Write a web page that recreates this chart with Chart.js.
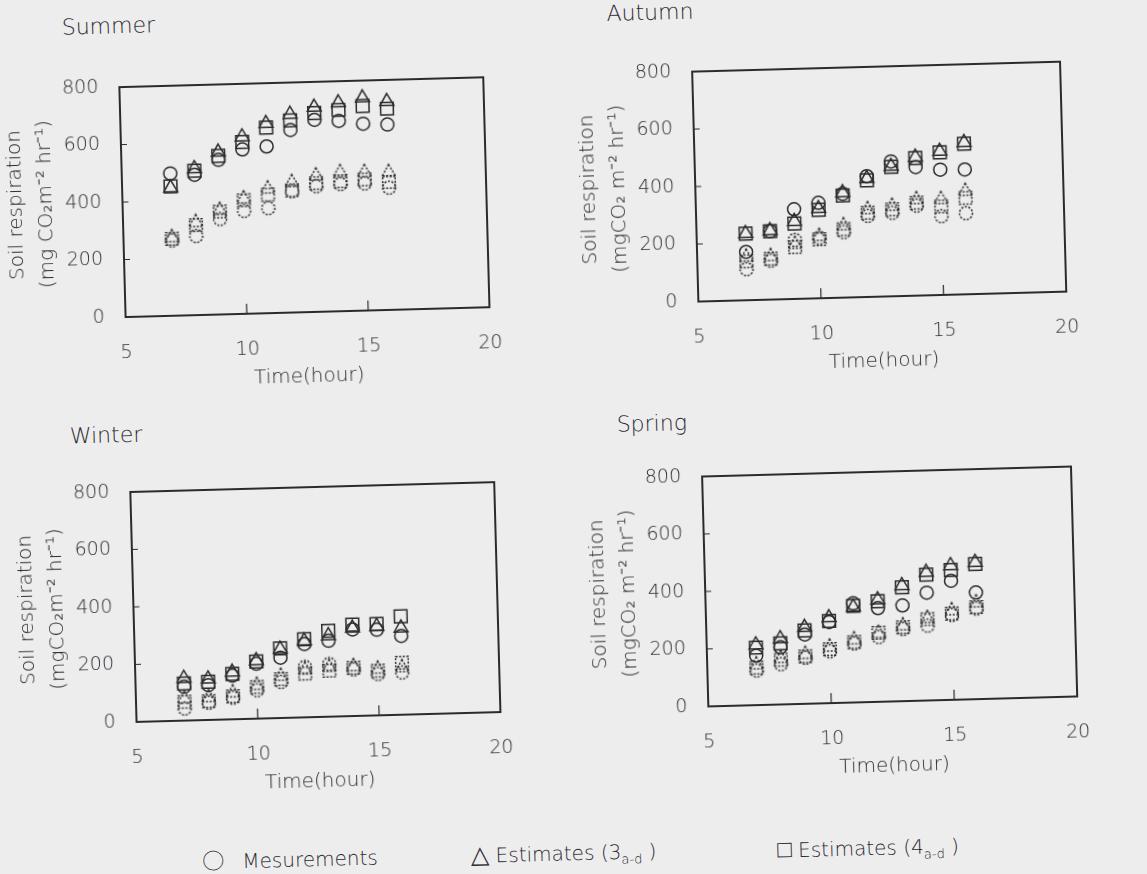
<!DOCTYPE html>
<html>
<head>
<meta charset="utf-8">
<script src="https://cdn.jsdelivr.net/npm/chart.js@4.4.1/dist/chart.umd.min.js"></script>
<style>
    body { margin: 0; background: #ededed; }
    #page {
        position: absolute; left: 0; top: 0; width: 1147px; height: 874px;
        transform: rotate(-1.55deg); transform-origin: 573px 437px;
        font-family: "DejaVu Sans", sans-serif; font-weight: 200; color: #2e2b33;
    }
    #page canvas { position: absolute; }
    .panel-title { position: absolute; font-size: 22px; line-height: 22px; }
    .legend-item { position: absolute; font-size: 20px; line-height: 20px; white-space: nowrap; }
    .legend-item .sym { display: inline-block; font-size: 24px; }
    .legend-item .circle { width: 40px; font-family: "Noto Sans CJK JP", sans-serif; font-weight: 300; font-size: 22px; }
    .legend-item sub { font-size: 13px; vertical-align: -5px; }
</style>
</head>
<body>
<div id="page">
    <div class="panel-title" style="left:73px; top:3px;">Summer</div>
    <div class="panel-title" style="left:618px; top:4px;">Autumn</div>
    <div class="panel-title" style="left:70px; top:412px;">Winter</div>
    <div class="panel-title" style="left:617px; top:415px;">Spring</div>

    <div class="legend-item" style="left:191px; top:839px;"><span class="sym circle">○</span>Mesurements</div>
    <div class="legend-item" style="left:460px; top:842px;"><span class="sym">△</span> Estimates (3<sub>a-d</sub> )</div>
    <div class="legend-item" style="left:766px; top:845px;"><span class="sym">□</span> Estimates (4<sub>a-d</sub> )</div>
</div>
<script>
const hours = [7, 8, 9, 10, 11, 12, 13, 14, 15, 16];

// upper group (solid markers)
const summerMeasA = [495, 488, 538, 572, 580, 635, 668, 662, 650, 645];
const summerEst3A = [445, 510, 565, 616, 660, 690, 712, 725, 740, 725];
const summerEst4A = [450, 502, 552, 598, 646, 668, 692, 700, 712, 700];
// lower group (dashed markers)
const summerMeasB = [262, 275, 332, 358, 365, 422, 437, 442, 442, 425];
const summerEst3B = [272, 322, 362, 400, 432, 452, 473, 482, 480, 478];
const summerEst4B = [268, 313, 358, 395, 412, 425, 448, 452, 456, 445];

const autumnMeasA = [168, 238, 312, 332, 361, 420, 469, 447, 436, 434];
const autumnEst3A = [232, 240, 270, 312, 365, 412, 452, 482, 500, 528];
const autumnEst4A = [232, 238, 262, 307, 355, 406, 450, 479, 496, 524];
const autumnMeasB = [108, 135, 205, 210, 228, 282, 290, 313, 274, 282];
const autumnEst3B = [150, 150, 190, 215, 250, 304, 313, 334, 332, 358];
const autumnEst4B = [135, 142, 180, 205, 238, 293, 302, 323, 308, 335];

const winterMeasA = [118, 121, 152, 191, 210, 255, 264, 301, 298, 274];
const winterEst3A = [147, 143, 164, 202, 240, 266, 282, 306, 310, 302];
const winterEst4A = [129, 133, 158, 199, 242, 272, 299, 318, 318, 342];
const winterMeasB = [42, 60, 75, 99, 125, 175, 183, 162, 144, 147];
const winterEst3B = [75, 78, 92, 116, 145, 165, 172, 172, 161, 164];
const winterEst4B = [65, 65, 80, 110, 135, 152, 160, 168, 155, 181];

const springMeasA = [172, 199, 241, 282, 345, 326, 333, 375, 414, 371];
const springEst3A = [210, 229, 266, 297, 332, 355, 402, 446, 467, 476];
const springEst4A = [200, 213, 255, 286, 336, 350, 396, 438, 452, 470];
const springMeasB = [120, 140, 160, 180, 205, 225, 251, 260, 295, 315];
const springEst3B = [140, 160, 172, 195, 218, 238, 262, 285, 310, 335];
const springEst4B = [130, 155, 165, 188, 210, 240, 257, 283, 300, 320];

const xTicks = [5, 10, 15, 20];
const yTicks = [0, 200, 400, 600, 800];

const ink = '#2b2b2b';
const textColor = '#2e2b33';
Chart.defaults.font.family = '"DejaVu Sans", sans-serif';
Chart.defaults.font.weight = '200';
Chart.defaults.color = textColor;

function toPoints(values) {
    return hours.map((h, i) => ({ x: h, y: values[i] }));
}

function dashedMarker(shape) {
    const size = 20;
    const c = document.createElement('canvas');
    c.width = size;
    c.height = size;
    const g = c.getContext('2d');
    const m = size / 2;
    g.strokeStyle = ink;
    g.lineWidth = 1.5;
    g.setLineDash([2, 1.6]);
    g.beginPath();
    if (shape == 'circle') {
        g.arc(m, m, 6.5, 0, Math.PI * 2);
    } else if (shape == 'rect') {
        g.rect(m - 6.3, m - 6.3, 12.6, 12.6);
    } else {
        const r = 8;
        g.moveTo(m, m - r);
        g.lineTo(m + r * Math.cos(Math.PI / 6), m + r / 2);
        g.lineTo(m - r * Math.cos(Math.PI / 6), m + r / 2);
        g.closePath();
    }
    g.stroke();
    return c;
}

const dashedCircle = dashedMarker('circle');
const dashedRect = dashedMarker('rect');
const dashedTriangle = dashedMarker('triangle');

function solidSet(values, style, radius) {
    return {
        data: toPoints(values),
        pointStyle: style,
        pointRadius: radius,
        borderColor: ink,
        backgroundColor: 'rgba(0,0,0,0)',
        borderWidth: 1.5,
        showLine: false
    };
}

function dashedSet(values, image) {
    return {
        data: toPoints(values),
        pointStyle: image,
        pointRadius: 7,
        showLine: false
    };
}

// frame round the plot area plus short inward ticks
const framePlugin = {
    id: 'frame',
    afterDraw(chart) {
        const { ctx, chartArea: a } = chart;
        const x = chart.scales.x;
        const y = chart.scales.y;
        ctx.save();
        ctx.strokeStyle = ink;
        ctx.lineWidth = 2;
        ctx.strokeRect(a.left, a.top, a.width, a.height);
        ctx.lineWidth = 1.2;
        ctx.beginPath();
        x.ticks.forEach(t => {
            const px = x.getPixelForValue(t.value);
            ctx.moveTo(px, a.bottom);
            ctx.lineTo(px, a.bottom - 10);
        });
        y.ticks.forEach(t => {
            const py = y.getPixelForValue(t.value);
            ctx.moveTo(a.left, py);
            ctx.lineTo(a.left + 6, py);
        });
        ctx.stroke();
        ctx.restore();
    }
};

function makePanel(boxLeft, boxTop, boxWidth, yUnit, series) {
    const padTop = 10, padRight = 22, yAxisW = 130, xAxisH = 80, boxHeight = 230;
    const canvas = document.createElement('canvas');
    canvas.width = yAxisW + boxWidth + padRight;
    canvas.height = padTop + boxHeight + xAxisH;
    canvas.style.left = (boxLeft - yAxisW) + 'px';
    canvas.style.top = (boxTop - padTop) + 'px';
    document.getElementById('page').appendChild(canvas);

    new Chart(canvas, {
        type: 'scatter',
        data: {
            datasets: [
                solidSet(series[0], 'circle', 6.5),
                solidSet(series[1], 'triangle', 8),
                solidSet(series[2], 'rect', 9),
                dashedSet(series[3], dashedCircle),
                dashedSet(series[4], dashedTriangle),
                dashedSet(series[5], dashedRect)
            ]
        },
        options: {
            responsive: false,
            animation: false,
            layout: { autoPadding: false, padding: { top: padTop, right: padRight, left: 0, bottom: 0 } },
            plugins: { legend: { display: false }, tooltip: { enabled: false } },
            scales: {
                x: {
                    type: 'linear',
                    min: 5,
                    max: 20,
                    afterBuildTicks: s => { s.ticks = xTicks.map(v => ({ value: v })); },
                    ticks: { padding: 25, font: { size: 19 }, color: textColor },
                    grid: { display: false, drawTicks: false },
                    border: { display: false },
                    title: {
                        display: true,
                        text: 'Time(hour)',
                        font: { size: 20, lineHeight: 1.2 },
                        padding: { top: 0, bottom: 3 }
                    },
                    afterFit: s => {
                        s.height = xAxisH;
                        s.paddingLeft = 0;
                        s.paddingRight = 0;
                    }
                },
                y: {
                    min: 0,
                    max: 800,
                    afterBuildTicks: s => { s.ticks = yTicks.map(v => ({ value: v })); },
                    ticks: { padding: 21, font: { size: 19 }, color: textColor },
                    grid: { display: false, drawTicks: false },
                    border: { display: false },
                    title: {
                        display: true,
                        text: ['Soil respiration', yUnit],
                        font: { size: 20, lineHeight: 1.5 },
                        padding: { top: 9, bottom: 0 }
                    },
                    afterFit: s => {
                        s.width = yAxisW;
                        s.paddingTop = 0;
                        s.paddingBottom = 0;
                    }
                }
            }
        },
        plugins: [framePlugin]
    });
}

makePanel(129, 75, 364, '(mg CO\u2082m\u207B\u00B2 hr\u207B\u00B9)',
    [summerMeasA, summerEst3A, summerEst4A, summerMeasB, summerEst3B, summerEst4B]);
makePanel(702, 75, 368, '(mgCO\u2082 m\u207B\u00B2 hr\u207B\u00B9)',
    [autumnMeasA, autumnEst3A, autumnEst4A, autumnMeasB, autumnEst3B, autumnEst4B]);
makePanel(129, 480, 364, '(mgCO\u2082m\u207B\u00B2 hr\u207B\u00B9)',
    [winterMeasA, winterEst3A, winterEst4A, winterMeasB, winterEst3B, winterEst4B]);
makePanel(701, 480, 369, '(mgCO\u2082 m\u207B\u00B2 hr\u207B\u00B9)',
    [springMeasA, springEst3A, springEst4A, springMeasB, springEst3B, springEst4B]);
</script>
</body>
</html>
